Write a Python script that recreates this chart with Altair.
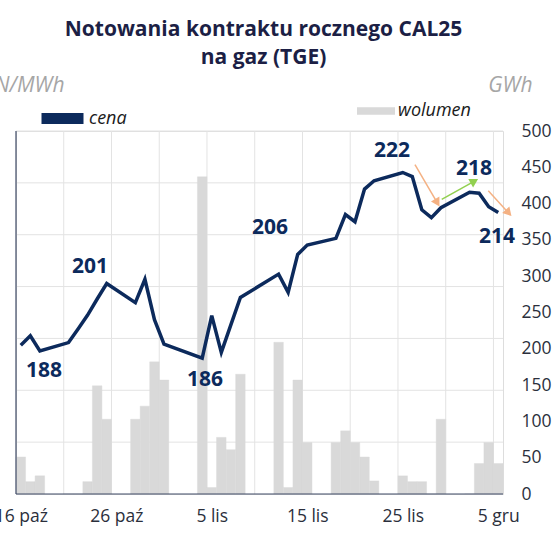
import json
import math
import altair as alt
import pandas as pd

# ---------------- data ----------------
dates = ["2024-10-16", "2024-10-17", "2024-10-18", "2024-10-21", "2024-10-22",
         "2024-10-23", "2024-10-24", "2024-10-25", "2024-10-28", "2024-10-29",
         "2024-10-30", "2024-10-31", "2024-11-04", "2024-11-05", "2024-11-06",
         "2024-11-07", "2024-11-08", "2024-11-12", "2024-11-13", "2024-11-14",
         "2024-11-15", "2024-11-18", "2024-11-19", "2024-11-20", "2024-11-21",
         "2024-11-22", "2024-11-25", "2024-11-26", "2024-11-27", "2024-11-28",
         "2024-11-29", "2024-12-02", "2024-12-03", "2024-12-04", "2024-12-05"]
cena = [188.7, 190.5, 187.6, 189.2, 191.8, 194.5, 197.6, 200.6, 196.9, 201.4,
        193.6, 188.9, 186.2, 194.4, 187.3, 192.6, 197.9, 202.4, 198.9, 206.2,
        208.0, 209.3, 213.9, 212.5, 218.8, 220.4, 222.0, 221.2, 214.8, 213.3,
        215.2, 218.2, 218.0, 215.4, 214.3]
wolumen = [51, 17, 25, 0, 0, 17, 149, 103, 103, 121,
           182, 157, 437, 9, 78, 61, 165, 209, 9, 157,
           71, 71, 87, 71, 51, 18, 25, 17, 17, 0,
           103, 0, 42, 71, 42]

ann_text = ["188", "201", "186", "206", "222", "218", "214"]
ann_date = ["2024-10-18T22:20:00Z", "2024-10-23T18:00:00Z", "2024-11-04T19:00:00Z",
            "2024-11-11T14:20:00Z", "2024-11-24T09:00:00Z", "2024-12-02T23:00:00Z",
            "2024-12-05T09:00:00Z"]
ann_value = [183.7, 203.8, 182.0, 211.2, 226.1, 222.7, 209.6]

arrow_from_date = ["2024-11-26T18:45:00Z", "2024-11-29T14:00:00Z", "2024-12-04T11:00:00Z"]
arrow_from_value = [223.5, 216.8, 218.5]
arrow_to_date = ["2024-11-29T01:10:00Z", "2024-12-02T21:00:00Z", "2024-12-06T11:45:00Z"]
arrow_to_value = [216.4, 220.2, 214.4]
arrow_color = ["#f4b183", "#92d050", "#f4b183"]

price_ticks = [160, 170, 180, 190, 200, 210, 220, 230]
volume_ticks = [0, 50, 100, 150, 200, 250, 300, 350, 400, 450, 500]
month_pl = ["sty", "lut", "mar", "kwi", "maj", "cze", "lip", "sie", "wrz", "paź", "lis", "gru"]

# ---------------- layout / style ----------------
W, H = 487, 363
DAY = 86400000
x_start = int(pd.Timestamp("2024-10-16", tz="UTC").value // 10**6)
x_end = int(pd.Timestamp("2024-12-06", tz="UTC").value // 10**6)
n_days = (x_end - x_start) // DAY
grid_dates = list(range(x_start, x_end, 5 * DAY))
label_vals = list(range(x_start + DAY // 2, x_end, 10 * DAY))
P_MIN, P_MAX = price_ticks[0], price_ticks[-1]

NAVY = "#0c2a5c"
TITLE_C = "#1c1f45"
GRID = "#e3e3e3"
AXC = "#3e4a66"
LAB = "#2b2f3c"
BAR = "#d9d9d9"
FONT = "Open Sans"


def ms(s):
    t = pd.Timestamp(s)
    t = t.tz_convert("UTC") if t.tzinfo else t.tz_localize("UTC")
    return t.value // 10**6


px_day = W / n_days
px_unit = H / (P_MAX - P_MIN)
arrow_heading = []
for a, av, b, bv in zip(arrow_from_date, arrow_from_value, arrow_to_date, arrow_to_value):
    dx = (ms(b) - ms(a)) / DAY * px_day
    dy = -(bv - av) * px_unit
    arrow_heading.append(math.degrees(math.atan2(dx, -dy)) % 360)

df = pd.DataFrame({"date": dates, "cena": cena, "wolumen": wolumen})
ann_df = pd.DataFrame({"date": ann_date, "value": ann_value, "label": ann_text})
arr_df = pd.DataFrame({"d0": arrow_from_date, "v0": arrow_from_value,
                       "d1": arrow_to_date, "v1": arrow_to_value,
                       "color": arrow_color, "heading": arrow_heading})
hgrid_df = pd.DataFrame({"p": price_ticks[1:]})
vgrid_df = pd.DataFrame({"t": grid_dates[1:]})

x_scale = alt.Scale(type="utc", domain=[x_start, x_end])
price_scale = alt.Scale(domain=[P_MIN, P_MAX], nice=False, zero=False)
vol_scale = alt.Scale(domain=[volume_ticks[0], volume_ticks[-1]], nice=False)

label_expr = ("utcdate(datum.value) + ' ' + "
              f"{json.dumps(month_pl, ensure_ascii=False)}[utcmonth(datum.value)]")

x_axis_labels = alt.Axis(orient="bottom", values=label_vals, grid=False, ticks=False,
                         domain=False, labelExpr=label_expr,
                         labelFlush=False, labelOverlap=False, labelBound=False,
                         labelPadding=13, labelFont=FONT, labelFontSize=17.5,
                         labelColor=LAB, title=None)

vol_axis = alt.Axis(orient="right", values=volume_ticks, grid=False,
                    ticks=False, domain=False, labelFont=FONT, labelFontSize=17.5,
                    labelColor=LAB, labelPadding=18, title="GWh", titleAngle=0,
                    titleX=29, titleY=-40, titleAlign="right", titleBaseline="alphabetic",
                    titleFont=FONT, titleFontStyle="italic", titleFontWeight="normal",
                    titleFontSize=21, titleColor="#a6a6a6")

price_axis = alt.Axis(orient="left", values=price_ticks, grid=False, labels=False,
                      ticks=False, domain=False,
                      title="PLN/MWh", titleAngle=0, titleX=48, titleY=-40,
                      titleAlign="right", titleBaseline="alphabetic", titleFont=FONT,
                      titleFontStyle="italic", titleFontWeight="normal",
                      titleFontSize=21, titleColor="#a6a6a6")

# gridlines from the tick values
hgrid = alt.Chart(hgrid_df).mark_rule(stroke=GRID, strokeWidth=1).encode(
    y=alt.Y("p:Q", scale=price_scale, axis=None))
vgrid = alt.Chart(vgrid_df).mark_rule(stroke=GRID, strokeWidth=1).encode(
    x=alt.X("t:T", scale=x_scale, axis=None))

bars = alt.Chart(df).transform_calculate(
    t0="time(toDate(datum.date))",
    t1="time(toDate(datum.date)) + 86400000",
    series="'wolumen'",
).mark_rect(stroke=BAR, strokeWidth=0.4).encode(
    x=alt.X("t0:T", scale=x_scale, axis=x_axis_labels),
    x2="t1:T",
    y=alt.Y("wolumen:Q", scale=vol_scale, axis=vol_axis),
    y2=alt.datum(0),
    color=alt.Color("series:N", scale=alt.Scale(domain=["wolumen"], range=[BAR]),
                    legend=alt.Legend(title=None, orient="none", legendX=341, legendY=-39,
                                      symbolType="M-1,-0.2H1V0.2H-1Z", symbolSize=1444,
                                      symbolStrokeWidth=0, labelFont=FONT, labelFontSize=18,
                                      labelFontStyle="italic", labelColor="#1a1a1a",
                                      labelOffset=3, padding=0)),
)

# axis lines (left and bottom edges of the price frame)
left_line = alt.Chart(pd.DataFrame({"t": [x_start]})).mark_rule(stroke=AXC, strokeWidth=1.2).encode(
    x=alt.X("t:T", scale=x_scale, axis=None))
bottom_line = alt.Chart(pd.DataFrame({"p": [P_MIN]})).mark_rule(stroke=AXC, strokeWidth=1.2).encode(
    y=alt.Y("p:Q", scale=price_scale, axis=None))

line = alt.Chart(df).transform_calculate(
    tm="time(toDate(datum.date)) + 43200000",
    series="'cena'",
).mark_line(strokeWidth=3.5, strokeJoin="miter").encode(
    x=alt.X("tm:T", scale=x_scale, axis=None),
    y=alt.Y("cena:Q", scale=price_scale, axis=price_axis),
    color=alt.Color("series:N", scale=alt.Scale(domain=["cena"], range=[NAVY]),
                    legend=alt.Legend(title=None, orient="none", legendX=20, legendY=-39,
                                      symbolType="stroke", symbolSize=1764,
                                      symbolStrokeWidth=11, labelFont=FONT, labelFontSize=18,
                                      labelFontStyle="italic", labelColor="#1a1a1a",
                                      labelOffset=0, padding=0)),
)

arrows = alt.Chart(arr_df).transform_calculate(
    a0="time(toDate(datum.d0))", a1="time(toDate(datum.d1))"
).mark_rule(strokeWidth=1.5).encode(
    x=alt.X("a0:T", scale=x_scale, axis=None),
    x2="a1:T",
    y=alt.Y("v0:Q", scale=price_scale, axis=None),
    y2="v1:Q",
    stroke=alt.Stroke("color:N", scale=None),
)

heads = alt.Chart(arr_df).transform_calculate(
    a1="time(toDate(datum.d1))"
).mark_point(shape="triangle", filled=True, size=40, opacity=1).encode(
    x=alt.X("a1:T", scale=x_scale, axis=None),
    y=alt.Y("v1:Q", scale=price_scale, axis=None),
    angle=alt.Angle("heading:Q", scale=None),
    fill=alt.Fill("color:N", scale=None),
    stroke=alt.Stroke("color:N", scale=None),
)

labels = alt.Chart(ann_df).transform_calculate(
    t="time(toDate(datum.date))"
).mark_text(font=FONT, fontSize=21, fontWeight="bold", color=NAVY,
            align="center", baseline="middle").encode(
    x=alt.X("t:T", scale=x_scale, axis=None),
    y=alt.Y("value:Q", scale=price_scale, axis=None),
    text="label:N",
)

chart = alt.layer(hgrid, vgrid, bars, left_line, bottom_line, line, arrows, heads, labels).resolve_scale(
    y="independent", color="independent"
).resolve_axis(x="independent", y="independent").resolve_legend(color="independent").properties(
    width=W, height=H,
    autosize=alt.AutoSizeParams(type="none"),
    padding={"left": 16, "top": 131, "right": 57, "bottom": 66},
    title=alt.TitleParams(["Notowania kontraktu rocznego CAL25", "na gaz (TGE)"],
                          font=FONT, fontSize=21, fontWeight="bold", color=TITLE_C,
                          anchor="middle", frame="group", lineHeight=28, offset=6, dx=4),
).configure_view(stroke=None).configure(background="white")

chart.save("out.html", embed_options={"renderer": "svg", "actions": False})
